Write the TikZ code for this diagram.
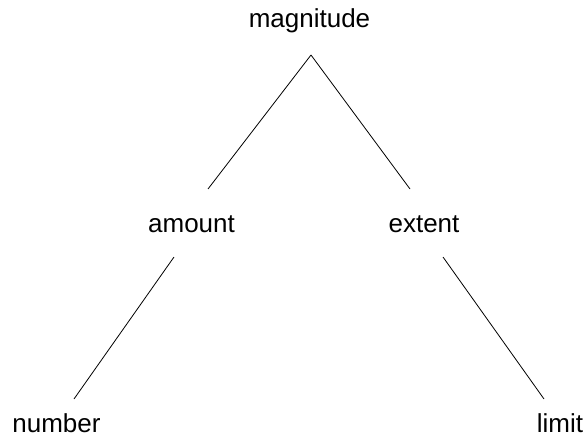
\documentclass[tikz,border=0pt]{standalone}
\usepackage{fontspec}
\setmainfont{Liberation Sans}
\usetikzlibrary{calc}
\begin{document}
\begin{tikzpicture}[x=1pt,y=1pt,
  lbl/.style={anchor=base,inner sep=0pt,font=\fontsize{26}{30}\selectfont},
  conn/.style={line width=0.8pt,black}]
\useasboundingbox (0,0) rectangle (587,-436);
\node[lbl] (mag) at (309.5,-28) {magnitude};
\node[lbl] (amt) at (191.5,-232.5) {amount};
\node[lbl] (ext) at (424,-232.5) {extent};
\node[lbl,text depth=0pt] (num) at (56.5,-432.5) {number};
\node[lbl,text depth=0pt] (lim) at (560,-432.5) {limit};
\draw[conn] ($(mag.base)+(1.5,-27)$) -- ($(amt.base)+(16.5,43.5)$);
\draw[conn] ($(mag.base)+(1.5,-27)$) -- ($(ext.base)+(-14,43.5)$);
\draw[conn] ($(amt.base)+(-17.5,-24.5)$) -- ($(num.base)+(17.5,33.5)$);
\draw[conn] ($(ext.base)+(19,-24.5)$) -- ($(lim.base)+(-16,33.5)$);
\end{tikzpicture}
\end{document}
